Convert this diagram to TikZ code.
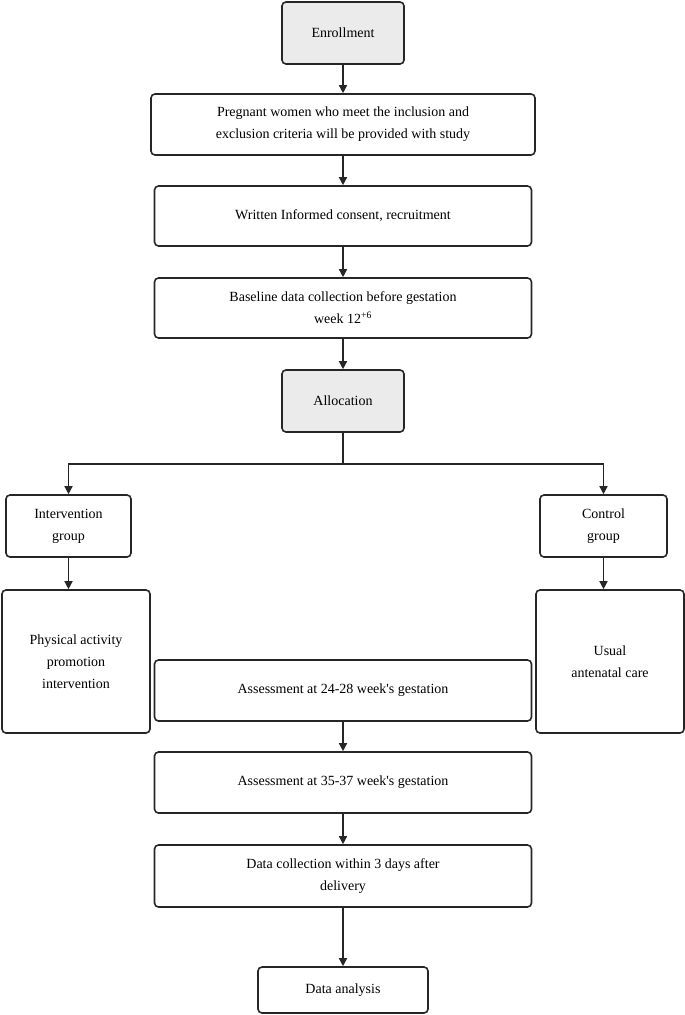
\documentclass[tikz,border=0pt]{standalone}
\usepackage{fontspec}
\setmainfont{Liberation Serif}
\usetikzlibrary{arrows.meta,positioning}
\tikzset{
    box/.style={draw=black!85, line width=1.6pt, rounded corners=4pt, fill=white, align=center,
        font=\fontsize{14}{22}\selectfont, inner sep=2pt},
    greybox/.style={box, fill=black!8},
    arr/.style={-{Triangle[length=8pt,width=8pt]}, line width=1.4pt, draw=black!85}
}
\begin{document}
\begin{tikzpicture}[x=1pt,y=-1pt]
    \useasboundingbox (0,0) rectangle (685,1015);
    \node[greybox, minimum width=122pt, minimum height=62pt] (enrol) at (343,33) {Enrollment};
    \node[box, minimum width=384pt, minimum height=61pt] (preg) at (343,124.5)
        {Pregnant women who meet the inclusion and\\exclusion criteria will be provided with study};
    \node[box, minimum width=377pt, minimum height=60pt] (consent) at (343,216) {Written Informed consent, recruitment};
    \node[box, minimum width=377pt, minimum height=60pt] (base) at (343,308)
        {Baseline data collection before gestation\\week 12\textsuperscript{+6}};
    \node[greybox, minimum width=122pt, minimum height=62pt] (alloc) at (343,401) {Allocation};
    \coordinate (split) at (343,464);
    \node[box, minimum width=125pt, minimum height=62pt] (interv) at (68.5,526) {Intervention\\group};
    \node[box, minimum width=127pt, minimum height=62pt] (ctrl) at (603.5,526) {Control\\group};
    \node[box, minimum width=148pt, minimum height=143pt] (pa) at (76,661.5)
        {Physical activity\\promotion\\intervention};
    \node[box, minimum width=148pt, minimum height=143pt] (care) at (610,661.5) {Usual\\antenatal care};
    \node[box, minimum width=377pt, minimum height=61pt] (ass1) at (343,690.5) {Assessment at 24-28 week\textquotesingle s gestation};
    \node[box, minimum width=377pt, minimum height=61pt] (ass2) at (343,782.5) {Assessment at 35-37 week\textquotesingle s gestation};
    \node[box, minimum width=377pt, minimum height=62pt] (deliv) at (343,876)
        {Data collection within 3 days after\\delivery};
    \node[box, minimum width=170pt, minimum height=46pt] (anal) at (343,990) {Data analysis};
    % vertical chain
    \draw[arr] (enrol) -- (preg);
    \draw[arr] (preg) -- (consent);
    \draw[arr] (consent) -- (base);
    \draw[arr] (base) -- (alloc);
    \draw[line width=1.4pt, draw=black!85] (alloc) -- (split);
    \draw[arr] (split) -| (interv);
    \draw[arr] (split) -| (ctrl);
    \draw[arr] (interv) -- (interv|-pa.north);
    \draw[arr] (ctrl) -- (ctrl|-care.north);
    \draw[arr] (ass1) -- (ass2);
    \draw[arr] (ass2) -- (deliv);
    \draw[arr] (deliv) -- (anal);
\end{tikzpicture}
\end{document}
